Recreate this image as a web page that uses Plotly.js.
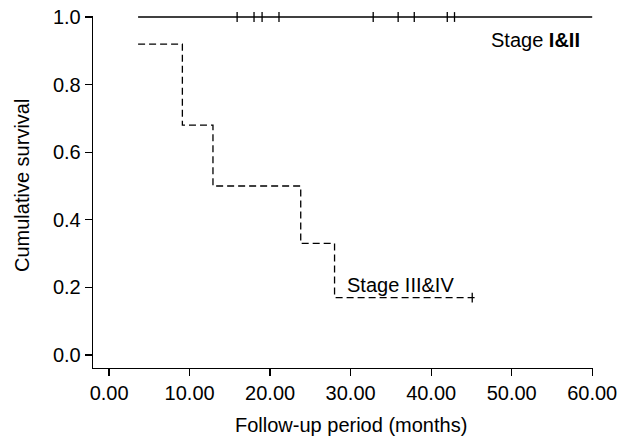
<!DOCTYPE html>
<html>
<head>
<meta charset="utf-8">
<script src="https://cdn.plot.ly/plotly-3.0.1.min.js"></script>
<style>html,body{margin:0;padding:0;background:#fff;}#chart{width:631px;height:439px;}</style>
</head>
<body>
<div id="chart"></div>
<script>
// Stage I&II: no events, survival stays at 1.0
var stage12Times = [3.6, 60];
var stage12Surv = [1.0, 1.0];
var stage12CensorTimes = [15.9, 18.0, 19.0, 21.1, 32.8, 35.9, 37.9, 42.0, 42.9];
var stage12CensorSurv = [1, 1, 1, 1, 1, 1, 1, 1, 1];

// Stage III&IV: step function
var stage34Times = [3.6, 9.1, 12.9, 23.8, 28.0, 45.5];
var stage34Surv = [0.92, 0.68, 0.50, 0.33, 0.17, 0.17];
var stage34CensorTimes = [45.1];
var stage34CensorSurv = [0.17];

var xTickVals = [0, 10, 20, 30, 40, 50, 60];
var xTickText = ['0.00', '10.00', '20.00', '30.00', '40.00', '50.00', '60.00'];
var yTickVals = [0, 0.2, 0.4, 0.6, 0.8, 1.0];
var yTickText = ['0.0', '0.2', '0.4', '0.6', '0.8', '1.0'];

var FONT = 'Liberation Sans, Arial, sans-serif';

var traces = [
  {x: stage12Times, y: stage12Surv, mode: 'lines', line: {color: '#000', width: 1.3, shape: 'hv'}, cliponaxis: false, hoverinfo: 'skip'},
  {x: stage12CensorTimes, y: stage12CensorSurv, mode: 'markers', marker: {symbol: 'line-ns', size: 7, line: {color: '#000', width: 1.3}}, cliponaxis: false, hoverinfo: 'skip'},
  {x: stage34Times, y: stage34Surv, mode: 'lines', line: {color: '#000', width: 1.3, shape: 'hv', dash: '7px,4px'}, cliponaxis: false, hoverinfo: 'skip'},
  {x: stage34CensorTimes, y: stage34CensorSurv, mode: 'markers', marker: {symbol: 'line-ns', size: 7, line: {color: '#000', width: 1.3}}, cliponaxis: false, hoverinfo: 'skip'}
];

var layout = {
  width: 631, height: 439,
  margin: {l: 93, r: 38, t: 16, b: 71, pad: 0},
  paper_bgcolor: '#fff', plot_bgcolor: '#fff',
  showlegend: false,
  font: {family: FONT, size: 20, color: '#000'},
  xaxis: {
    range: [-2, 60.1], tickvals: xTickVals, ticktext: xTickText,
    ticks: 'outside', ticklen: 7, tickwidth: 1.3, tickcolor: '#000',
    showline: true, linecolor: '#000', linewidth: 1.3,
    showgrid: false, zeroline: false, fixedrange: true,
    tickfont: {family: FONT, size: 20, color: '#000'}
  },
  yaxis: {
    range: [-0.0385, 1.003], tickvals: yTickVals, ticktext: yTickText,
    ticks: 'outside', ticklen: 7, tickwidth: 1.3, tickcolor: '#000',
    showline: true, linecolor: '#000', linewidth: 1.3,
    showgrid: false, zeroline: false, fixedrange: true,
    tickfont: {family: FONT, size: 20, color: '#000'}
  },
  annotations: [
    {text: 'Follow-up period (months)', xref: 'x', yref: 'paper', x: 30, y: 0, yshift: -57, xanchor: 'center', yanchor: 'middle', showarrow: false, font: {family: FONT, size: 20, color: '#000'}},
    {text: 'Cumulative survival', xref: 'paper', yref: 'y', x: 0, xshift: -71, y: 0.5, textangle: -90, xanchor: 'center', yanchor: 'middle', showarrow: false, font: {family: FONT, size: 20, color: '#000'}},
    {text: 'Stage <b>I&amp;II</b>', xref: 'x', yref: 'y', x: 47.2, y: 0.932, xanchor: 'left', yanchor: 'middle', showarrow: false, font: {family: FONT, size: 20, color: '#000'}},
    {text: 'Stage III&amp;IV', xref: 'x', yref: 'y', x: 29.3, y: 0.207, xanchor: 'left', yanchor: 'middle', showarrow: false, font: {family: FONT, size: 20, color: '#000'}}
  ]
};

Plotly.newPlot('chart', traces, layout, {displayModeBar: false, staticPlot: true});
</script>
</body>
</html>
